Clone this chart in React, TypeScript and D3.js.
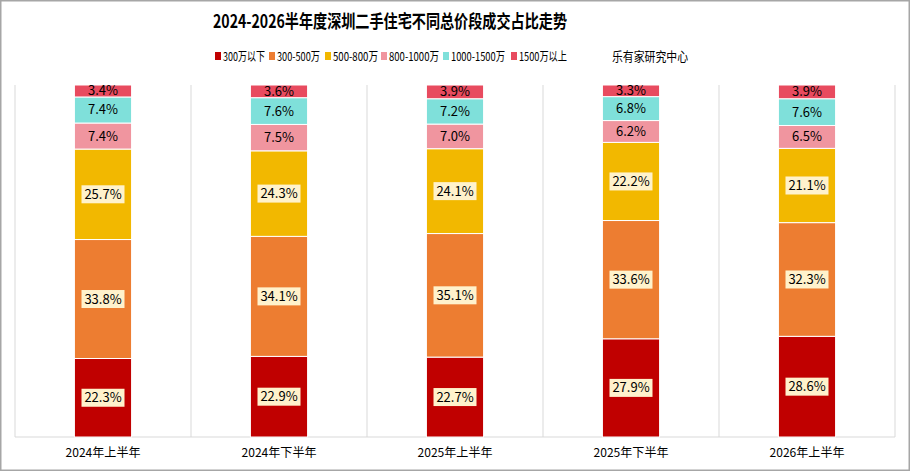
import * as d3 from "d3";
import { useEffect, useRef } from "react";

const categories = ["2024年上半年", "2024年下半年", "2025年上半年", "2025年下半年", "2026年上半年"];
const seriesNames = ["300万以下", "300-500万", "500-800万", "800-1000万", "1000-1500万", "1500万以上"];
const below300 = [22.3, 22.9, 22.7, 27.9, 28.6];
const from300to500 = [33.8, 34.1, 35.1, 33.6, 32.3];
const from500to800 = [25.7, 24.3, 24.1, 22.2, 21.1];
const from800to1000 = [7.4, 7.5, 7.0, 6.2, 6.5];
const from1000to1500 = [7.4, 7.6, 7.2, 6.8, 7.6];
const above1500 = [3.4, 3.6, 3.9, 3.3, 3.9];
const colors = ["#C00000", "#ED7D31", "#F2B800", "#F0959F", "#7FE0DA", "#E84B5F"];

const W = 910;
const H = 471;
const FONT = "'Noto Sans CJK SC', 'Noto Sans', sans-serif";

export default function App() {
  const svgRef = useRef<SVGSVGElement>(null);

  useEffect(() => {
    if (!svgRef.current) return;
    const svg = d3.select(svgRef.current);
    svg.selectAll("*").remove();

    const all = [below300, from300to500, from500to800, from800to1000, from1000to1500, above1500];
    const rows = categories.map((c, i) => {
      const r: any = { cat: c };
      seriesNames.forEach((s, k) => (r[s] = all[k][i]));
      return r;
    });
    const stacked = d3.stack().keys(seriesNames)(rows);

    const x = d3.scaleBand().domain(categories).range([15, 895]).padding(0);
    const y = d3.scaleLinear().domain([0, 100]).range([437, 85]);
    const barW = x.bandwidth() * 0.325;

    // outer frame
    svg.append("rect")
      .attr("x", 0.75).attr("y", 0.75)
      .attr("width", W - 1.5).attr("height", H - 1.5)
      .attr("fill", "#fff").attr("stroke", "#A6A6A6").attr("stroke-width", 1.5);

    // title
    svg.append("text")
      .attr("x", 213).attr("y", 28)
      .attr("textLength", 354).attr("lengthAdjust", "spacingAndGlyphs")
      .attr("font-family", FONT).attr("font-weight", "bold").attr("font-size", 18)
      .attr("fill", "#000")
      .text("2024-2026半年度深圳二手住宅不同总价段成交占比走势");

    // legend
    const legX = [215, 269, 325, 381, 443, 511];
    const legLen = [42, 43, 45, 50, 54, 48];
    const leg = svg.append("g").attr("font-family", FONT).attr("font-size", 12);
    seriesNames.forEach((s, i) => {
      leg.append("rect").attr("x", legX[i]).attr("y", 52).attr("width", 6).attr("height", 8).attr("fill", colors[i]);
      leg.append("text").attr("x", legX[i] + 8).attr("y", 61)
        .attr("textLength", legLen[i]).attr("lengthAdjust", "spacingAndGlyphs")
        .attr("fill", "#000").text(s);
    });
    leg.append("text").attr("x", 612).attr("y", 61).attr("font-size", 13)
      .attr("textLength", 76).attr("lengthAdjust", "spacingAndGlyphs")
      .attr("fill", "#000").text("乐有家研究中心");

    // grid separators
    const bounds = [...categories.map((c) => x(c)!), 895];
    svg.append("g").selectAll("line").data(bounds).join("line")
      .attr("x1", (d) => d).attr("x2", (d) => d)
      .attr("y1", 85).attr("y2", 437)
      .attr("stroke", "#D9D9D9").attr("stroke-width", 1);
    svg.append("line")
      .attr("x1", 15).attr("x2", 895).attr("y1", 437).attr("y2", 437)
      .attr("stroke", "#D9D9D9").attr("stroke-width", 1);

    // bars
    const cx = (c: string) => x(c)! + x.bandwidth() / 2;
    stacked.forEach((layer, k) => {
      const g = svg.append("g");
      g.selectAll("rect").data(layer).join("rect")
        .attr("x", (d: any) => cx(d.data.cat) - barW / 2)
        .attr("width", barW)
        .attr("y", (d) => y(d[1]))
        .attr("height", (d) => y(d[0]) - y(d[1]))
        .attr("fill", colors[k])
        .attr("stroke", "#fff").attr("stroke-width", 1);
    });

    // labels
    stacked.forEach((layer, k) => {
      layer.forEach((d: any) => {
        const lx = cx(d.data.cat);
        const ly = (y(d[0]) + y(d[1])) / 2;
        const txt = d3.format(".1f")(d[1] - d[0]) + "%";
        if (k < 3) {
          svg.append("rect")
            .attr("x", lx - 21.5).attr("y", ly - 9)
            .attr("width", 43).attr("height", 18)
            .attr("fill", "#FFF2CC");
        }
        svg.append("text")
          .attr("x", lx).attr("y", ly + 4.5)
          .attr("text-anchor", "middle")
          .attr("font-family", FONT).attr("font-size", 13)
          .attr("fill", "#000")
          .text(txt);
      });
    });

    // x labels
    svg.append("g").selectAll("text").data(categories).join("text")
      .attr("x", (c) => cx(c) - 37.5).attr("y", 457)
      .attr("textLength", 75).attr("lengthAdjust", "spacingAndGlyphs")
      .attr("font-family", FONT).attr("font-size", 12)
      .attr("fill", "#000")
      .text((c) => c);
  }, []);

  return (
    <svg ref={svgRef} width={W} height={H} style={{ position: "absolute", left: 0, top: 0 }} />
  );
}
